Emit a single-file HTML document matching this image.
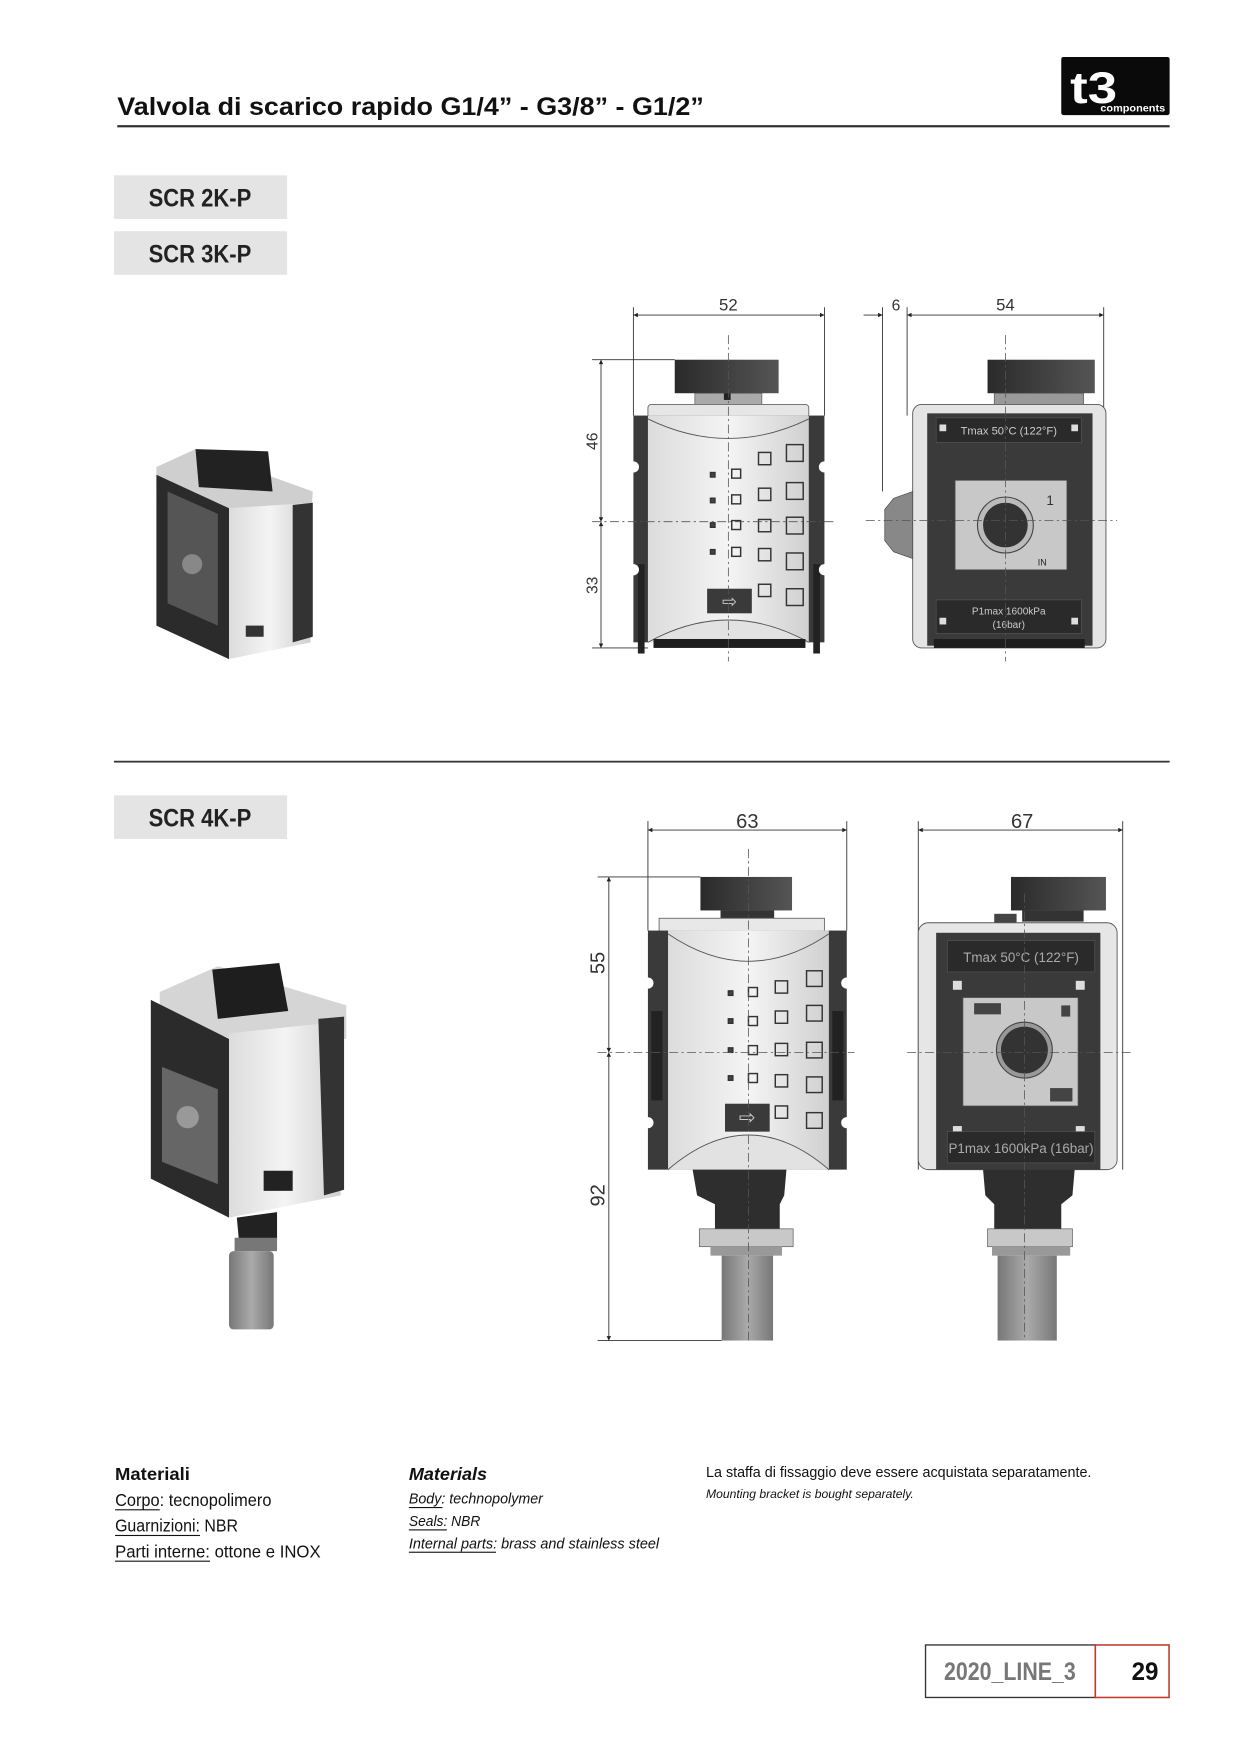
<!DOCTYPE html>
<html><head><meta charset="utf-8"><style>
html,body{margin:0;padding:0;background:#fff;}
svg{display:block;}
text{font-family:"Liberation Sans Narrow","Liberation Sans",sans-serif;}
</style></head><body>
<svg width="1240" height="1755" viewBox="0 0 1110 1571" xmlns="http://www.w3.org/2000/svg">
<defs>
<linearGradient id="face" x1="0" x2="1"><stop offset="0" stop-color="#dcdcdc"/><stop offset="0.5" stop-color="#f4f4f4"/><stop offset="1" stop-color="#d0d0d0"/></linearGradient>
<linearGradient id="knob" x1="0" x2="1"><stop offset="0" stop-color="#2a2a2a"/><stop offset="1" stop-color="#555"/></linearGradient>
<linearGradient id="filt" x1="0" x2="1"><stop offset="0" stop-color="#777"/><stop offset="0.5" stop-color="#aaa"/><stop offset="1" stop-color="#777"/></linearGradient>
<marker id="ar" viewBox="0 0 10 10" refX="10" refY="5" markerWidth="7" markerHeight="5" orient="auto-start-reverse"><path d="M0,0 L10,5 L0,10z" fill="#222"/></marker>
</defs>

<!-- Header -->
<text x="105" y="103" font-size="22" font-weight="bold" fill="#111" textLength="525" lengthAdjust="spacingAndGlyphs">Valvola di scarico rapido G1/4” - G3/8” - G1/2”</text>
<rect x="105" y="112" width="942" height="2" fill="#333"/>
<rect x="950" y="51" width="97" height="52" rx="2" fill="#0a0a0a"/>
<text x="958" y="92" font-size="40" font-weight="bold" fill="#fff" textLength="42" lengthAdjust="spacingAndGlyphs">t3</text>
<text x="985" y="100" font-size="9" font-weight="bold" fill="#fff" textLength="58" lengthAdjust="spacingAndGlyphs">components</text>

<!-- labels -->
<rect x="102" y="157" width="155" height="39" fill="#e4e4e4"/>
<text x="179" y="185" font-size="22" font-weight="bold" fill="#222" text-anchor="middle" textLength="92" lengthAdjust="spacingAndGlyphs">SCR 2K-P</text>
<rect x="102" y="207" width="155" height="39" fill="#e4e4e4"/>
<text x="179" y="235" font-size="22" font-weight="bold" fill="#222" text-anchor="middle" textLength="92" lengthAdjust="spacingAndGlyphs">SCR 3K-P</text>
<rect x="102" y="681" width="945" height="1.6" fill="#333"/>
<rect x="102" y="712" width="155" height="39" fill="#e4e4e4"/>
<text x="179" y="740" font-size="22" font-weight="bold" fill="#222" text-anchor="middle" textLength="92" lengthAdjust="spacingAndGlyphs">SCR 4K-P</text>

<!-- ISO 1 -->
<g>
<polygon points="140,418 175,402 280,440 278,470 200,458 140,440" fill="#cfcfcf"/>
<polygon points="175,402 240,404 244,440 178,436" fill="#222"/>
<polygon points="140,425 205,455 205,590 140,560" fill="#2b2b2b"/>
<polygon points="150,440 195,460 195,560 150,540" fill="#555"/>
<circle cx="172" cy="505" r="9" fill="#888"/>
<polygon points="205,455 278,450 278,575 205,590" fill="url(#face)"/>
<polygon points="262,452 280,450 280,570 262,575" fill="#333"/>
<rect x="220" y="560" width="16" height="10" fill="#333"/>
</g>

<!-- ISO 2 -->
<g>
<polygon points="143,888 195,865 310,900 310,930 220,935 143,905" fill="#d5d5d5"/>
<polygon points="190,868 250,862 258,905 195,912" fill="#1e1e1e"/>
<polygon points="135,895 205,930 205,1090 135,1055" fill="#2b2b2b"/>
<polygon points="145,955 195,975 195,1060 145,1040" fill="#666"/>
<circle cx="168" cy="1000" r="10" fill="#999"/>
<polygon points="205,925 300,915 305,1070 205,1090" fill="url(#face)"/>
<polygon points="285,912 308,910 308,1065 290,1070" fill="#333"/>
<rect x="236" y="1048" width="26" height="18" fill="#222"/>
<polygon points="212,1090 248,1085 248,1110 214,1112" fill="#222"/>
<rect x="210" y="1108" width="38" height="12" fill="#777"/>
<rect x="205" y="1120" width="40" height="70" rx="4" fill="url(#filt)"/>
</g>

<!-- ====== FRONT VIEW 1 ====== -->
<g stroke="#333" stroke-width="0.8" fill="none">
<line x1="567" y1="275" x2="567" y2="372"/><line x1="738" y1="275" x2="738" y2="372"/>
<line x1="567" y1="282" x2="738" y2="282" marker-start="url(#ar)" marker-end="url(#ar)"/>
<line x1="530" y1="322" x2="604" y2="322"/><line x1="530" y1="580" x2="580" y2="580"/>
<line x1="538" y1="322" x2="538" y2="467" marker-start="url(#ar)" marker-end="url(#ar)"/>
<line x1="538" y1="467" x2="538" y2="580" marker-start="url(#ar)" marker-end="url(#ar)"/>
</g>
<text x="652" y="278" font-size="15" fill="#333" text-anchor="middle">52</text>
<text transform="translate(535,395) rotate(-90)" font-size="14" fill="#333" text-anchor="middle">46</text>
<text transform="translate(535,524) rotate(-90)" font-size="14" fill="#333" text-anchor="middle">33</text>
<rect x="604" y="322" width="93" height="30" fill="url(#knob)"/>
<rect x="622" y="352" width="60" height="10" fill="#aaa" stroke="#555" stroke-width="0.6"/>
<rect x="648" y="352" width="6" height="6" fill="#222"/>
<rect x="580" y="362" width="144" height="12" rx="3" fill="#e6e6e6" stroke="#666" stroke-width="0.8"/>
<rect x="567" y="372" width="171" height="203" fill="#3a3a3a"/>
<rect x="571" y="505" width="6" height="80" fill="#222"/>
<rect x="728" y="505" width="6" height="80" fill="#222"/>
<circle cx="567" cy="418" r="5" fill="#fff"/><circle cx="738" cy="418" r="5" fill="#fff"/>
<circle cx="567" cy="510" r="5" fill="#fff"/><circle cx="738" cy="510" r="5" fill="#fff"/>
<path d="M580,372 L724,372 L724,575 L580,575 Z" fill="url(#face)"/>
<path d="M580,375 Q652,410 724,375" stroke="#555" fill="none" stroke-width="0.8"/>
<path d="M580,575 Q652,535 724,575" stroke="#555" fill="#e2e2e2" stroke-width="0.8"/>
<rect x="585" y="572" width="136" height="8" fill="#1e1e1e"/>
<g fill="none" stroke="#333" stroke-width="1.3">
<rect x="636" y="423" width="4" height="4" fill="#444"/><rect x="636" y="446" width="4" height="4" fill="#444"/><rect x="636" y="468" width="4" height="4" fill="#444"/><rect x="636" y="492" width="4" height="4" fill="#444"/>
<rect x="655" y="420" width="8" height="8"/><rect x="655" y="443" width="8" height="8"/><rect x="655" y="466" width="8" height="8"/><rect x="655" y="490" width="8" height="8"/>
<rect x="679" y="405" width="11" height="11"/><rect x="679" y="437" width="11" height="11"/><rect x="679" y="465" width="11" height="11"/><rect x="679" y="491" width="11" height="11"/><rect x="679" y="523" width="11" height="11"/>
<rect x="704" y="398" width="15" height="15"/><rect x="704" y="432" width="15" height="15"/><rect x="704" y="463" width="15" height="15"/><rect x="704" y="495" width="15" height="15"/><rect x="704" y="527" width="15" height="15"/>
</g>
<rect x="633" y="527" width="40" height="22" fill="#3a3a3a"/>
<text x="653" y="544" font-size="16" fill="#ccc" text-anchor="middle">⇨</text>
<g stroke="#555" stroke-width="0.7" stroke-dasharray="8,3,2,3">
<line x1="652" y1="300" x2="652" y2="592"/><line x1="530" y1="467" x2="748" y2="467"/>
</g>

<!-- ====== SIDE VIEW 1 ====== -->
<g stroke="#333" stroke-width="0.8" fill="none">
<line x1="790" y1="275" x2="790" y2="440"/><line x1="812" y1="275" x2="812" y2="372"/><line x1="988" y1="275" x2="988" y2="372"/>
<line x1="773" y1="282" x2="790" y2="282" marker-end="url(#ar)"/>
<line x1="812" y1="282" x2="988" y2="282" marker-start="url(#ar)" marker-end="url(#ar)"/>
</g>
<text x="802" y="278" font-size="14" fill="#333" text-anchor="middle">6</text>
<text x="900" y="278" font-size="15" fill="#333" text-anchor="middle">54</text>
<rect x="884" y="322" width="96" height="30" fill="url(#knob)"/>
<rect x="890" y="352" width="80" height="10" fill="#999" stroke="#555" stroke-width="0.6"/>
<rect x="817" y="362" width="173" height="218" rx="8" fill="#e4e4e4" stroke="#555" stroke-width="0.8"/>
<rect x="830" y="370" width="148" height="208" fill="#3a3a3a"/>
<rect x="838" y="374" width="130" height="22" fill="#2a2a2a" stroke="#555" stroke-width="0.6"/>
<text x="903" y="389" font-size="10" fill="#ccc" text-anchor="middle">Tmax 50°C (122°F)</text>
<rect x="841" y="380" width="6" height="6" fill="#ddd"/><rect x="959" y="380" width="6" height="6" fill="#ddd"/>
<rect x="855" y="430" width="100" height="80" fill="#c8c8c8" stroke="#555" stroke-width="0.6"/>
<circle cx="900" cy="470" r="25" fill="#bbb" stroke="#444"/><circle cx="900" cy="470" r="20" fill="#333"/>
<text x="940" y="452" font-size="12" fill="#333" text-anchor="middle">1</text>
<text x="933" y="506" font-size="8" fill="#222" text-anchor="middle">IN</text>
<rect x="838" y="537" width="130" height="30" fill="#2a2a2a" stroke="#555" stroke-width="0.6"/>
<text x="903" y="550" font-size="9" fill="#ccc" text-anchor="middle">P1max 1600kPa</text>
<text x="903" y="562" font-size="9" fill="#ccc" text-anchor="middle">(16bar)</text>
<rect x="841" y="553" width="6" height="6" fill="#ddd"/><rect x="959" y="553" width="6" height="6" fill="#ddd"/>
<rect x="836" y="572" width="135" height="8" fill="#1e1e1e"/>
<path d="M817,440 L800,446 L792,456 L792,484 L800,494 L817,500 Z" fill="#888" stroke="#444" stroke-width="0.6"/>
<g stroke="#555" stroke-width="0.7" stroke-dasharray="8,3,2,3">
<line x1="900" y1="300" x2="900" y2="592"/><line x1="775" y1="466" x2="1000" y2="466"/>
</g>

<!-- ====== FRONT VIEW 2 ====== -->
<g stroke="#333" stroke-width="0.8" fill="none">
<line x1="580" y1="735" x2="580" y2="833"/><line x1="758" y1="735" x2="758" y2="833"/>
<line x1="580" y1="743" x2="758" y2="743" marker-start="url(#ar)" marker-end="url(#ar)"/>
<line x1="535" y1="785" x2="627" y2="785"/><line x1="535" y1="1200" x2="646" y2="1200"/>
<line x1="545" y1="785" x2="545" y2="942" marker-start="url(#ar)" marker-end="url(#ar)"/>
<line x1="545" y1="942" x2="545" y2="1200" marker-start="url(#ar)" marker-end="url(#ar)"/>
</g>
<text x="669" y="741" font-size="18" fill="#333" text-anchor="middle">63</text>
<text transform="translate(541,862) rotate(-90)" font-size="18" fill="#333" text-anchor="middle">55</text>
<text transform="translate(541,1070) rotate(-90)" font-size="18" fill="#333" text-anchor="middle">92</text>
<rect x="627" y="785" width="82" height="30" fill="url(#knob)"/>
<rect x="645" y="815" width="48" height="8" fill="#333"/>
<rect x="590" y="822" width="148" height="13" fill="#e8e8e8" stroke="#666" stroke-width="0.8"/>
<rect x="580" y="833" width="178" height="214" fill="#3a3a3a"/>
<rect x="583" y="905" width="10" height="80" fill="#222"/><rect x="745" y="905" width="10" height="80" fill="#222"/>
<circle cx="580" cy="880" r="5" fill="#fff"/><circle cx="758" cy="880" r="5" fill="#fff"/>
<circle cx="580" cy="1005" r="5" fill="#fff"/><circle cx="758" cy="1005" r="5" fill="#fff"/>
<rect x="598" y="833" width="144" height="214" fill="url(#face)"/>
<path d="M598,836 Q670,885 742,836" stroke="#555" fill="none" stroke-width="0.8"/>
<path d="M598,1047 Q670,985 742,1047" stroke="#555" fill="#e2e2e2" stroke-width="0.8"/>
<g fill="none" stroke="#333" stroke-width="1.3">
<rect x="652" y="887" width="4" height="4" fill="#444"/><rect x="652" y="912" width="4" height="4" fill="#444"/><rect x="652" y="938" width="4" height="4" fill="#444"/><rect x="652" y="963" width="4" height="4" fill="#444"/>
<rect x="670" y="884" width="8" height="8"/><rect x="670" y="910" width="8" height="8"/><rect x="670" y="936" width="8" height="8"/><rect x="670" y="961" width="8" height="8"/>
<rect x="694" y="878" width="11" height="11"/><rect x="694" y="905" width="11" height="11"/><rect x="694" y="934" width="11" height="11"/><rect x="694" y="962" width="11" height="11"/><rect x="694" y="990" width="11" height="11"/>
<rect x="722" y="869" width="14" height="14"/><rect x="722" y="900" width="14" height="14"/><rect x="722" y="933" width="14" height="14"/><rect x="722" y="964" width="14" height="14"/><rect x="722" y="996" width="14" height="14"/>
</g>
<rect x="649" y="988" width="40" height="25" fill="#3a3a3a"/>
<text x="669" y="1006" font-size="18" fill="#ccc" text-anchor="middle">⇨</text>
<path d="M620,1047 L704,1047 L702,1070 L698,1078 L698,1100 L640,1100 L640,1078 L624,1070 Z" fill="#2e2e2e"/>
<rect x="626" y="1100" width="84" height="16" fill="#c8c8c8" stroke="#555" stroke-width="0.6"/>
<rect x="636" y="1116" width="64" height="8" fill="#999"/>
<rect x="646" y="1124" width="46" height="76" fill="url(#filt)"/>
<g stroke="#555" stroke-width="0.7" stroke-dasharray="8,3,2,3">
<line x1="670" y1="760" x2="670" y2="1200"/><line x1="535" y1="942" x2="765" y2="942"/>
</g>

<!-- ====== SIDE VIEW 2 ====== -->
<g stroke="#333" stroke-width="0.8" fill="none">
<line x1="822" y1="735" x2="822" y2="1047"/><line x1="1005" y1="735" x2="1005" y2="1047"/>
<line x1="822" y1="743" x2="1005" y2="743" marker-start="url(#ar)" marker-end="url(#ar)"/>
</g>
<text x="915" y="741" font-size="18" fill="#333" text-anchor="middle">67</text>
<rect x="905" y="785" width="85" height="30" fill="url(#knob)"/>
<rect x="915" y="815" width="55" height="10" fill="#333"/>
<rect x="890" y="818" width="20" height="8" fill="#444"/>
<rect x="822" y="826" width="178" height="221" rx="9" fill="#e6e6e6" stroke="#555" stroke-width="0.8"/>
<rect x="838" y="835" width="147" height="212" fill="#3a3a3a"/>
<rect x="848" y="842" width="132" height="28" fill="#2a2a2a" stroke="#555" stroke-width="0.6"/>
<text x="914" y="861" font-size="12" fill="#aaa" text-anchor="middle">Tmax 50°C (122°F)</text>
<rect x="853" y="878" width="8" height="8" fill="#ddd"/><rect x="963" y="878" width="8" height="8" fill="#ddd"/>
<rect x="853" y="1008" width="8" height="8" fill="#ddd"/><rect x="963" y="1008" width="8" height="8" fill="#ddd"/>
<rect x="862" y="893" width="103" height="97" fill="#c8c8c8" stroke="#555" stroke-width="0.6"/>
<rect x="872" y="898" width="24" height="10" fill="#444"/>
<rect x="950" y="900" width="8" height="10" fill="#444"/>
<rect x="940" y="974" width="20" height="12" fill="#444"/>
<circle cx="917" cy="940" r="25" fill="#999" stroke="#444"/><circle cx="917" cy="940" r="21" fill="#333"/>
<rect x="848" y="1013" width="132" height="28" fill="#2a2a2a" stroke="#555" stroke-width="0.6"/>
<text x="914" y="1032" font-size="12" fill="#aaa" text-anchor="middle">P1max 1600kPa (16bar)</text>
<path d="M880,1047 L962,1047 L960,1070 L950,1078 L950,1100 L890,1100 L890,1078 L882,1070 Z" fill="#2e2e2e"/>
<rect x="884" y="1100" width="76" height="16" fill="#c8c8c8" stroke="#555" stroke-width="0.6"/>
<rect x="888" y="1116" width="70" height="8" fill="#999"/>
<rect x="893" y="1124" width="53" height="76" fill="url(#filt)"/>
<g stroke="#555" stroke-width="0.7" stroke-dasharray="8,3,2,3">
<line x1="917" y1="800" x2="917" y2="1200"/><line x1="812" y1="942" x2="1015" y2="942"/>
</g>

<!-- Materials -->
<g fill="#111">
<text x="103" y="1325" font-size="16" font-weight="bold" textLength="67" lengthAdjust="spacingAndGlyphs">Materiali</text>
<text x="103" y="1348" font-size="16" textLength="140" lengthAdjust="spacingAndGlyphs">Corpo: tecnopolimero</text>
<text x="103" y="1371" font-size="16" textLength="110" lengthAdjust="spacingAndGlyphs">Guarnizioni: NBR</text>
<text x="103" y="1394" font-size="16" textLength="184" lengthAdjust="spacingAndGlyphs">Parti interne: ottone e INOX</text>
<rect x="103" y="1351" width="40" height="1"/><rect x="103" y="1374" width="76" height="1"/><rect x="103" y="1397" width="85" height="1"/>
<text x="366" y="1325" font-size="16" font-weight="bold" font-style="italic" textLength="70" lengthAdjust="spacingAndGlyphs">Materials</text>
<text x="366" y="1346" font-size="13" font-style="italic" textLength="120" lengthAdjust="spacingAndGlyphs">Body: technopolymer</text>
<text x="366" y="1366" font-size="13" font-style="italic" textLength="64" lengthAdjust="spacingAndGlyphs">Seals: NBR</text>
<text x="366" y="1386" font-size="13" font-style="italic" textLength="224" lengthAdjust="spacingAndGlyphs">Internal parts: brass and stainless steel</text>
<rect x="366" y="1349" width="30" height="1"/><rect x="366" y="1369" width="34" height="1"/><rect x="366" y="1389" width="78" height="1"/>
<text x="632" y="1322" font-size="13" textLength="345" lengthAdjust="spacingAndGlyphs">La staffa di fissaggio deve essere acquistata separatamente.</text>
<text x="632" y="1341" font-size="11" font-style="italic" textLength="186" lengthAdjust="spacingAndGlyphs">Mounting bracket is bought separately.</text>
</g>

<!-- Footer -->
<rect x="828.5" y="1472.5" width="152" height="47" fill="#fff" stroke="#333" stroke-width="1.2"/>
<rect x="980.5" y="1472.5" width="66" height="47" fill="#fff" stroke="#c0392b" stroke-width="1.4"/>
<text x="904" y="1504" font-size="22" font-weight="bold" fill="#777" text-anchor="middle" textLength="118" lengthAdjust="spacingAndGlyphs">2020_LINE_3</text>
<text x="1025" y="1504" font-size="22" font-weight="bold" fill="#111" text-anchor="middle" textLength="24" lengthAdjust="spacingAndGlyphs">29</text>
</svg>
</body></html>
